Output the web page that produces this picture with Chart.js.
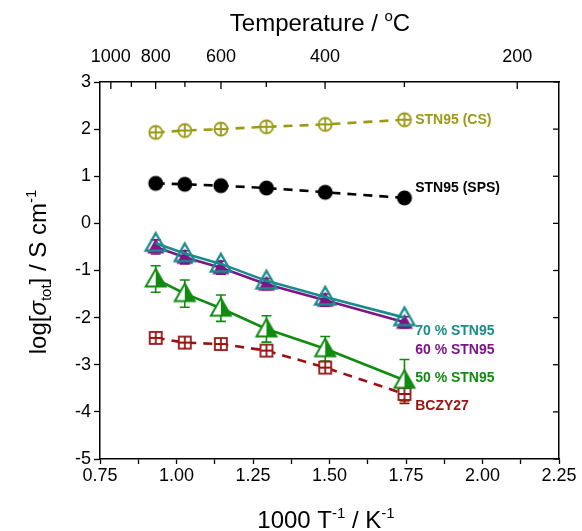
<!DOCTYPE html>
<html lang="en">
<head>
<meta charset="UTF-8">
<title>Conductivity vs 1000/T</title>
<script src="https://cdn.jsdelivr.net/npm/chart.js"></script>
<style>
  html, body { margin: 0; padding: 0; background: #fff; }
  #wrap { width: 582px; height: 531px; position: relative; }
</style>
</head>
<body>
<div id="wrap"><canvas id="chart"></canvas></div>
<script>
// 1000/T values (K^-1) of the six measuring temperatures
const invT = [0.932, 1.027, 1.145, 1.294, 1.486, 1.745];

// log(sigma_tot)
const cs      = [1.93, 1.97, 2.00, 2.05, 2.10, 2.20];
const sps     = [0.85, 0.83, 0.80, 0.75, 0.66, 0.54];
const stn70   = [-0.42, -0.64, -0.86, -1.22, -1.56, -2.00];
const stn60   = [-0.50, -0.72, -0.94, -1.29, -1.63, -2.10];
const stn50   = [-1.18, -1.49, -1.80, -2.24, -2.66, -3.33];
const bczy    = [-2.43, -2.53, -2.56, -2.70, -3.06, -3.62];

// error bars (+/-)
const err60   = [0.15, 0.14, 0.14, 0.12, 0.13, 0.12];
const err50   = [0.28, 0.29, 0.28, 0.28, 0.26, 0.44];
const errBczy = [0.05, 0.05, 0.05, 0.05, 0.08, 0.20];

// top axis temperatures (°C)
const tempMajor = [1000, 800, 600, 400, 200];
const tempMinor = [900, 700, 500, 300];

const labels = ['STN95 (CS)', 'STN95 (SPS)', '70 % STN95', '60 % STN95', '50 % STN95', 'BCZY27'];
// where the curve labels sit (log sigma units)
const labelY = [2.19, 0.75, -2.29, -2.70, -3.28, -3.88];

const OLIVE = '#9a9a16', BLACK = '#000000', TEAL = '#1a8c8c',
      PURPLE = '#7d1487', GREEN = '#118a11', DRED = '#9a1212';
const labelColors = [OLIVE, BLACK, TEAL, PURPLE, GREEN, DRED];

const F = '"Liberation Sans", Arial, sans-serif';

function marker(size, draw) {
  const c = document.createElement('canvas');
  c.width = size; c.height = size;
  draw(c.getContext('2d'), size / 2);
  return c;
}
const mCS = marker(18, (g, m) => {
  g.fillStyle = '#fff'; g.strokeStyle = OLIVE; g.lineWidth = 1.8;
  g.beginPath(); g.arc(m, m, 6.5, 0, Math.PI * 2); g.fill(); g.stroke();
  g.beginPath(); g.moveTo(m - 6.5, m); g.lineTo(m + 6.5, m);
  g.moveTo(m, m - 6.5); g.lineTo(m, m + 6.5); g.stroke();
});
const mSPS = marker(18, (g, m) => {
  g.fillStyle = BLACK; g.beginPath(); g.arc(m, m, 7.5, 0, Math.PI * 2); g.fill();
});
function tri(g, m, h) {
  g.beginPath(); g.moveTo(m, m - h); g.lineTo(m + h, m + h * 0.75); g.lineTo(m - h, m + h * 0.75); g.closePath();
}
const m70 = marker(26, (g, m) => {
  g.strokeStyle = TEAL; g.lineWidth = 2.4; tri(g, m, 10); g.stroke();
});
const m60 = marker(24, (g, m) => {
  g.fillStyle = PURPLE; tri(g, m, 8.5); g.fill();
});
const m50 = marker(26, (g, m) => {
  g.fillStyle = '#fff'; g.strokeStyle = GREEN; g.lineWidth = 2;
  tri(g, m, 10); g.fill();
  g.fillStyle = GREEN;
  g.beginPath(); g.moveTo(m, m - 10); g.lineTo(m + 10, m + 7.5); g.lineTo(m, m + 7.5); g.closePath(); g.fill();
  tri(g, m, 10); g.stroke();
});
const mBczy = marker(18, (g, m) => {
  g.fillStyle = '#fff'; g.strokeStyle = DRED; g.lineWidth = 1.8;
  g.fillRect(m - 6, m - 6, 12, 12); g.strokeRect(m - 6, m - 6, 12, 12);
  g.beginPath(); g.moveTo(m - 6, m); g.lineTo(m + 6, m); g.moveTo(m, m - 6); g.lineTo(m, m + 6); g.stroke();
});

function pts(ys) { return invT.map((x, i) => ({ x: x, y: ys[i] })); }

function ds(label, ys, color, style, dashed, order, err) {
  return {
    label: label, data: pts(ys), borderColor: color, backgroundColor: color,
    borderWidth: 2.6, borderDash: dashed ? [9, 7] : [], pointStyle: style,
    pointRadius: 8, pointHoverRadius: 8, showLine: true, order: order, errors: err
  };
}

function rich(g, parts, cx, cy, rot) {
  g.save(); g.translate(cx, cy); g.rotate(rot); g.fillStyle = '#000'; g.textBaseline = 'alphabetic';
  let w = 0;
  parts.forEach(p => { g.font = p.f; w += g.measureText(p.t).width; });
  let px = -w / 2;
  parts.forEach(p => { g.font = p.f; g.fillText(p.t, px, p.dy || 0); px += g.measureText(p.t).width; });
  g.restore();
}

// error bars, curve labels, inner ticks on top/right axes, rich axis titles
const extras = {
  id: 'extras',
  beforeDatasetsDraw(chart) {
    const g = chart.ctx, y = chart.scales.y;
    chart.data.datasets.forEach((d, di) => {
      if (!d.errors) return;
      const meta = chart.getDatasetMeta(di);
      g.save(); g.strokeStyle = d.borderColor; g.lineWidth = 1.6;
      meta.data.forEach((p, i) => {
        const e = d.errors[i];
        const y1 = y.getPixelForValue(d.data[i].y + e), y2 = y.getPixelForValue(d.data[i].y - e);
        g.beginPath();
        g.moveTo(p.x, y1); g.lineTo(p.x, y2);
        g.moveTo(p.x - 5, y1); g.lineTo(p.x + 5, y1);
        g.moveTo(p.x - 5, y2); g.lineTo(p.x + 5, y2);
        g.stroke();
      });
      g.restore();
    });
  },
  afterDraw(chart) {
    const g = chart.ctx, a = chart.chartArea, x = chart.scales.x, y = chart.scales.y;
    g.save();
    g.strokeStyle = '#000'; g.lineWidth = 1.3;
    // top ticks, pointing in
    tempMajor.concat(tempMinor).forEach(t => {
      const px = x.getPixelForValue(1000 / (t + 273.15));
      const len = tempMajor.includes(t) ? 7 : 5;
      g.beginPath(); g.moveTo(px, a.top); g.lineTo(px, a.top + len); g.stroke();
    });
    // right ticks, pointing in
    for (let v = -5; v <= 3; v++) {
      const py = y.getPixelForValue(v);
      g.beginPath(); g.moveTo(a.right, py); g.lineTo(a.right - 6, py); g.stroke();
    }
    // curve labels
    g.font = 'bold 14px ' + F;
    g.textBaseline = 'middle';
    labels.forEach((l, i) => {
      g.fillStyle = labelColors[i];
      g.fillText(l, x.getPixelForValue(1.78), y.getPixelForValue(labelY[i]));
    });
    g.restore();

    const big = '24px ' + F, small = '15px ' + F;
    rich(g, [{ t: 'Temperature / ', f: big }, { t: 'o', f: small, dy: -10 }, { t: 'C', f: big }], 320, 31, 0);
    rich(g, [{ t: '1000 T', f: big }, { t: '-1', f: small, dy: -10 }, { t: ' / K', f: big }, { t: '-1', f: small, dy: -10 }], 326, 528, 0);
    rich(g, [{ t: 'log[', f: big }, { t: 'σ', f: 'italic ' + big }, { t: 'tot', f: small, dy: 5 },
             { t: '] / S cm', f: big }, { t: '-1', f: small, dy: -10 }], 46, 272, -Math.PI / 2);
  }
};

const tickFont = { family: F, size: 18 };

new Chart(document.getElementById('chart'), {
  type: 'scatter',
  data: {
    datasets: [
      ds(labels[0], cs, OLIVE, mCS, true, 1),
      ds(labels[1], sps, BLACK, mSPS, true, 2),
      ds(labels[3], stn60, PURPLE, m60, false, 4, err60),
      ds(labels[2], stn70, TEAL, m70, false, 3),
      ds(labels[4], stn50, GREEN, m50, false, 5, err50),
      ds(labels[5], bczy, DRED, mBczy, true, 6, errBczy)
    ]
  },
  options: {
    responsive: true, maintainAspectRatio: false, animation: false,
    layout: { padding: 0 },
    plugins: { legend: { display: false }, tooltip: { enabled: false } },
    scales: {
      x: {
        type: 'linear', position: 'bottom', min: 0.75, max: 2.25,
        afterFit: s => { s.height = 72; },
        border: { color: '#000', width: 1.5 },
        grid: { drawOnChartArea: false, tickLength: 5, color: '#000', tickWidth: 1.3 },
        ticks: {
          stepSize: 0.125, color: '#000', font: tickFont, maxRotation: 0, autoSkip: false, padding: 1,
          callback: v => Math.abs(v * 4 - Math.round(v * 4)) < 1e-6 ? v.toFixed(2) : ''
        }
      },
      x2: {
        type: 'linear', position: 'top', min: 0.75, max: 2.25,
        afterFit: s => { s.height = 82; },
        afterBuildTicks: s => { s.ticks = tempMajor.map(t => ({ value: 1000 / (t + 273.15) })); },
        border: { color: '#000', width: 1.5 },
        grid: { display: false },
        ticks: {
          color: '#000', font: tickFont, maxRotation: 0, autoSkip: false, padding: 6,
          callback: v => String(Math.round(1000 / v - 273.15))
        }
      },
      y: {
        type: 'linear', position: 'left', min: -5, max: 3,
        afterFit: s => { s.width = 100; },
        border: { color: '#000', width: 1.5 },
        grid: { drawOnChartArea: false, tickLength: 6, color: '#000', tickWidth: 1.3 },
        ticks: { stepSize: 1, color: '#000', font: tickFont, padding: 3 }
      },
      y2: {
        type: 'linear', position: 'right', min: -5, max: 3,
        afterFit: s => { s.width = 23; },
        border: { color: '#000', width: 1.5 },
        grid: { display: false },
        ticks: { display: false }
      }
    }
  },
  plugins: [extras]
});
</script>
</body>
</html>
